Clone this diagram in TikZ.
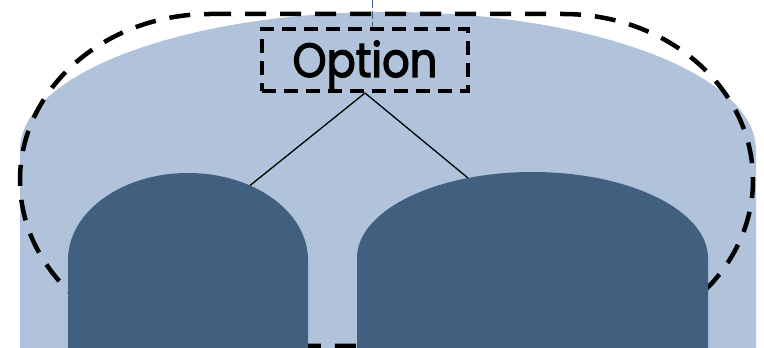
\documentclass[tikz,border=0pt]{standalone}
\usepackage{fontspec}
\setmainfont{Poppins}
\newfontfamily\optfont[FakeStretch=0.9,FakeBold=2.5]{Poppins}
\definecolor{lightfill}{RGB}{176,195,219}
\definecolor{darkfill}{RGB}{65,96,127}
\begin{document}
\begin{tikzpicture}[x=1pt,y=1pt,
  outline/.style={draw=black,line width=4.5pt,dash pattern=on 21pt off 14pt},
  optbox/.style={draw=black,line width=4pt,dash pattern=on 14pt off 8pt,
    minimum width=206pt,minimum height=62pt,inner sep=0pt,
    text height=34pt,text depth=0pt,font=\optfont\fontsize{48}{52}\selectfont},
  link/.style={draw=black,line width=1.3pt},
  guide/.style={draw=darkfill,line width=1pt,dash pattern=on 8pt off 3pt}]
\useasboundingbox (0,0) rectangle (764,348);
% light background shape
\fill[lightfill] (20,-2) -- (20,198) arc[start angle=180,end angle=0,x radius=368,y radius=138] -- (756,-2) -- cycle;
% dashed outline
\draw[outline] (210,334) -- (563,334)
  arc[start angle=90,end angle=0,x radius=190,y radius=166]
  arc[start angle=0,end angle=-90,x radius=190,y radius=166]
  -- (210,2)
  arc[start angle=270,end angle=180,x radius=190,y radius=166]
  arc[start angle=180,end angle=90,x radius=190,y radius=166] -- cycle;
% dark shapes
\fill[darkfill] (68,-2) -- (68,88) arc[start angle=180,end angle=0,x radius=120,y radius=87] -- (308,-2) -- cycle;
\fill[darkfill] (357,-2) -- (357,90) arc[start angle=180,end angle=0,x radius=175.5,y radius=86] -- (708,-2) -- cycle;
% option node
\node[optbox] (opt) at (365,288) {Option};
\coordinate (lefttop) at (250,162.5);
\coordinate (righttop) at (468,170);
\coordinate (topend) at (372,348);
\draw[link] (opt.south) -- (lefttop);
\draw[link] (opt.south) -- (righttop);
\draw[guide] (topend) -- (topend |- opt.north);
\end{tikzpicture}
\end{document}
